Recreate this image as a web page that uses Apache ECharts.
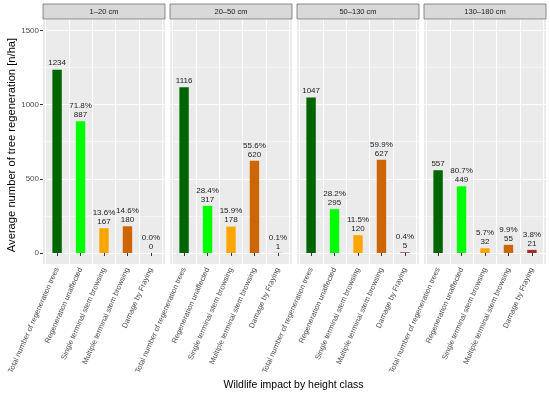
<!DOCTYPE html>
<html><head><meta charset="utf-8">
<script src="https://cdn.jsdelivr.net/npm/echarts@6/dist/echarts.min.js"></script>
<style>html,body{margin:0;padding:0;background:#fff}#c{width:550px;height:394px}</style>
</head><body><div id="c"></div><script>
const panels = ['1–20 cm', '20–50 cm', '50–130 cm', '130–180 cm'];
const categories = ['Total number of regeneration trees', 'Regeneration unaffected', 'Single terminal stem browsing', 'Multiple terminal stem browsing', 'Damage by Fraying'];
const values1 = [1234, 887, 167, 180, 0];
const values2 = [1116, 317, 178, 620, 1];
const values3 = [1047, 295, 120, 627, 5];
const values4 = [557, 449, 32, 55, 21];
const pct1 = [null, 71.8, 13.6, 14.6, 0.0];
const pct2 = [null, 28.4, 15.9, 55.6, 0.1];
const pct3 = [null, 28.2, 11.5, 59.9, 0.4];
const pct4 = [null, 80.7, 5.7, 9.9, 3.8];
const yTickLabels = [0, 500, 1000, 1500];

const values = [values1, values2, values3, values4];
const pcts = [pct1, pct2, pct3, pct4];
const colors = ['#006400', '#00FF00', '#FFA500', '#CD6600', '#A52A2A'];
const panelLeft = [43, 170, 297, 424];
const panelW = 122, panelTop = 20, panelH = 244;
const innerTop = 30.3, innerH = 222.7;          // y = 1500 .. y = 0
const padPx = panelW * 0.1 / 5.2;               // ggplot discrete expansion 0.6 vs echarts 0.5
const yMinFull = -74, yMaxFull = 1568;
const FONT = 'Liberation Sans, Arial, sans-serif';

const grid = [], xAxis = [], yAxis = [], series = [], graphic = [];
const hiddenX = (g) => ({type: 'category', gridIndex: g, data: categories, show: false, splitLine: {show: false}});
const hiddenY = (g, mn, mx) => ({type: 'value', gridIndex: g, min: mn, max: mx, show: false, splitLine: {show: false}});

// panel backgrounds
panels.forEach((p, i) => {
  grid.push({left: panelLeft[i], top: panelTop, width: panelW, height: panelH, show: true, backgroundColor: '#EBEBEB', borderWidth: 0});
  xAxis.push(hiddenX(grid.length - 1));
  yAxis.push(hiddenY(grid.length - 1, 0, 1));
});
// horizontal grid lines + y axis
panels.forEach((p, i) => {
  const g = grid.length;
  grid.push({left: panelLeft[i], top: innerTop, width: panelW, height: innerH, show: false});
  xAxis.push(hiddenX(g));
  yAxis.push({
    type: 'value', gridIndex: g, min: 0, max: 1500, interval: 500,
    axisLine: {show: false},
    axisTick: {show: i === 0, length: 3, lineStyle: {color: '#333'}},
    axisLabel: {show: i === 0, fontSize: 8, color: '#4D4D4D', fontFamily: FONT, margin: 4,
      formatter: v => yTickLabels.includes(v) ? String(v) : ''},
    splitLine: {show: true, lineStyle: {color: '#fff', width: 1.1}},
    minorTick: {show: false, splitNumber: 2},
    minorSplitLine: {show: true, lineStyle: {color: '#fff', width: 0.55}}
  });
});
// bars, category axis, vertical grid lines
panels.forEach((p, i) => {
  const g = grid.length;
  grid.push({left: panelLeft[i] + padPx, top: panelTop, width: panelW - 2 * padPx, height: panelH, show: false});
  xAxis.push({
    type: 'category', gridIndex: g, data: categories,
    axisLine: {show: false},
    axisTick: {show: true, alignWithLabel: true, length: 3, lineStyle: {color: '#333'}},
    axisLabel: {interval: 0, rotate: 66, fontSize: 7.5, color: '#4D4D4D', fontFamily: FONT, margin: 4},
    splitLine: {show: true, interval: 0, lineStyle: {color: '#fff', width: 1}}
  });
  yAxis.push(hiddenY(g, yMinFull, yMaxFull));
  series.push({
    type: 'bar', xAxisIndex: g, yAxisIndex: g, barWidth: 9.4,
    data: values[i].map((v, j) => ({value: v, itemStyle: {color: colors[j]}})),
    label: {show: true, position: 'top', distance: 2, fontSize: 8, lineHeight: 9, color: '#1A1A1A', fontFamily: FONT,
      formatter: prm => {
        const pc = pcts[i][prm.dataIndex];
        return pc === null ? String(prm.value) : pc.toFixed(1) + '%\n' + prm.value;
      }}
  });
  graphic.push({type: 'rect', shape: {x: panelLeft[i], y: 4, width: panelW, height: 15},
    style: {fill: '#D9D9D9', stroke: '#6E6E6E', lineWidth: 0.8}});
  graphic.push({type: 'text', x: panelLeft[i] + panelW / 2, y: 11.5,
    style: {text: p, fill: '#1A1A1A', fontSize: 7.5, fontFamily: FONT, align: 'center', verticalAlign: 'middle'}});
});
graphic.push({type: 'text', x: 293.5, y: 385,
  style: {text: 'Wildlife impact by height class', fill: '#000', fontSize: 10.5, fontFamily: FONT, align: 'center', verticalAlign: 'middle'}});
graphic.push({type: 'text', x: 12, y: 145, rotation: Math.PI / 2,
  style: {text: 'Average number of tree regeneration [n/ha]', fill: '#000', fontSize: 11.2, fontFamily: FONT, align: 'center', verticalAlign: 'middle'}});

const chart = echarts.init(document.getElementById('c'), null, {renderer: 'canvas'});
chart.setOption({animation: false, backgroundColor: '#fff', grid, xAxis, yAxis, series, graphic});
</script></body></html>
